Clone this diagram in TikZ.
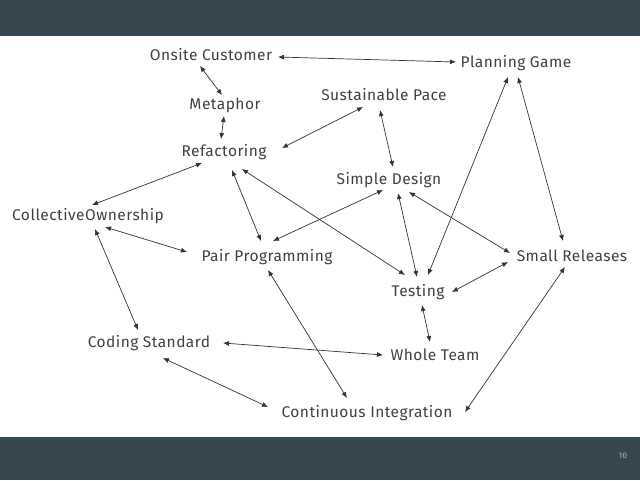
\documentclass[tikz,border=0pt]{standalone}
\usepackage{fontspec}
\setmainfont[LetterSpace=3]{Fira Sans}
\usetikzlibrary{arrows.meta}
\definecolor{barcol}{HTML}{37474F}
\definecolor{txtcol}{HTML}{404040}
\definecolor{lncol}{HTML}{333333}
\tikzset{
  lbl/.style={text=txtcol, inner sep=0pt, font=\fontsize{15.5}{15.5}\selectfont},
  link/.style={draw=lncol, line width=0.7pt, {Latex[length=6pt,width=5pt]}-{Latex[length=6pt,width=5pt]}}
}
\begin{document}
\begin{tikzpicture}[x=1pt,y=-1pt]
\useasboundingbox (0,0) rectangle (640,480);
\fill[white] (0,0) rectangle (640,480);
\fill[barcol] (0,0) rectangle (640,36);
\fill[barcol] (0,437) rectangle (640,480);
\node[text=gray!55, font=\fontsize{8}{8}\selectfont, inner sep=0pt] (pnum) at (623,456) {10};

\node[lbl] (oc) at (211,55) {Onsite Customer};
\node[lbl] (pg) at (516,63) {Planning Game};
\node[lbl] (me) at (225,105) {Metaphor};
\node[lbl] (sp) at (384,95) {Sustainable Pace};
\node[lbl] (rf) at (224,152) {Refactoring};
\node[lbl] (sd) at (389,180) {Simple Design};
\node[lbl] (co) at (88,216) {CollectiveOwnership};
\node[lbl] (pp) at (267,257) {Pair Programming};
\node[lbl] (sr) at (572,256) {Small Releases};
\node[lbl] (te) at (418,292) {Testing};
\node[lbl] (cs) at (149,343) {Coding Standard};
\node[lbl] (wt) at (435,355) {Whole Team};
\node[lbl] (ci) at (367,413) {Continuous Integration};

\draw[link] ([shift={(67,2)}]oc.center) -- ([shift={(-60,-1)}]pg.center);
\draw[link] ([shift={(-11,11)}]oc.center) -- ([shift={(-3,-10)}]me.center);
\draw[link] ([shift={(-1,11)}]me.center) -- ([shift={(-3,-13)}]rf.center);
\draw[link] ([shift={(58,-4)}]rf.center) -- ([shift={(-21,12)}]sp.center);
\draw[link] ([shift={(-4,15)}]sp.center) -- ([shift={(4,-13)}]sd.center);
\draw[link] ([shift={(-22,11)}]rf.center) -- ([shift={(4,-11)}]co.center);
\draw[link] ([shift={(8,18)}]rf.center) -- ([shift={(-6,-16)}]pp.center);
\draw[link] ([shift={(18,17)}]rf.center) -- ([shift={(-13,-17)}]te.center);
\draw[link] ([shift={(-6,10)}]sd.center) -- ([shift={(6,-16)}]pp.center);
\draw[link] ([shift={(9,13)}]sd.center) -- ([shift={(-1,-15)}]te.center);
\draw[link] ([shift={(20,12)}]sd.center) -- ([shift={(-62,-3)}]sr.center);
\draw[link] ([shift={(-8,14)}]pg.center) -- ([shift={(10,-17)}]te.center);
\draw[link] ([shift={(2,14)}]pg.center) -- ([shift={(-9,-15)}]sr.center);
\draw[link] ([shift={(34,0)}]te.center) -- ([shift={(-64,6)}]sr.center);
\draw[link] ([shift={(4,13)}]te.center) -- ([shift={(-5,-13)}]wt.center);
\draw[link] ([shift={(17,11)}]co.center) -- ([shift={(-80,-5)}]pp.center);
\draw[link] ([shift={(7,13)}]co.center) -- ([shift={(-11,-13)}]cs.center);
\draw[link] ([shift={(74,0)}]cs.center) -- ([shift={(-52,0)}]wt.center);
\draw[link] ([shift={(14,15)}]cs.center) -- ([shift={(-99,-6)}]ci.center);
\draw[link] ([shift={(1,13)}]pp.center) -- ([shift={(-20,-15)}]ci.center);
\draw[link] ([shift={(-7,11)}]sr.center) -- ([shift={(98,-1)}]ci.center);
\end{tikzpicture}
\end{document}
